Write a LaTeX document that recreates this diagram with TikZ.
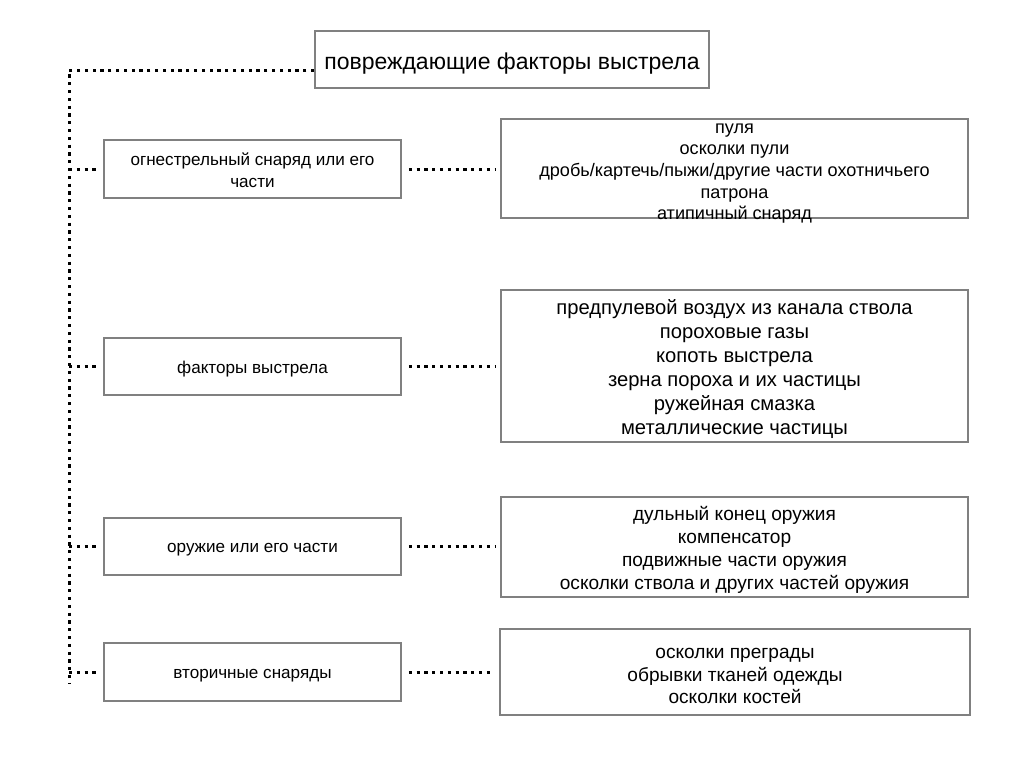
\documentclass[tikz,border=0pt]{standalone}
\usepackage{fontspec}
\setmainfont{Liberation Sans}
\begin{document}
\begin{tikzpicture}[x=1pt,y=-1pt,
  box/.style={draw=black!50, line width=1.6pt, inner sep=0pt},
  txt/.style={align=center, inner sep=0pt},
  dotline/.style={line width=3pt, dash pattern=on 3.2pt off 4.6pt},
  lt/.style={txt, font=\fontsize{17.1}{22}\selectfont}]
\useasboundingbox[fill=white] (0,0) rectangle (1024,768);
% title
\node[box, minimum width=394pt, minimum height=57pt] (t) at (512,59.5) {};
\node[txt, font=\fontsize{23}{27}\selectfont] (tt) at ([yshift=-4pt]t.center) {повреждающие факторы выстрела};
% left boxes
\node[box, minimum width=297pt, minimum height=58pt] (l1) at (252.5,169) {};
\node[box, minimum width=297pt, minimum height=57pt] (l2) at (252.5,366.5) {};
\node[box, minimum width=297pt, minimum height=57pt] (l3) at (252.5,546.5) {};
\node[box, minimum width=297pt, minimum height=58pt] (l4) at (252.5,672) {};
\node[lt] (l1t) at ([yshift=-1pt]l1.center) {огнестрельный снаряд или его\\части};
\node[lt] (l2t) at ([yshift=-3pt]l2.center) {факторы выстрела};
\node[lt] (l3t) at ([yshift=-3pt]l3.center) {оружие или его части};
\node[lt] (l4t) at ([yshift=-4pt]l4.center) {вторичные снаряды};
% right boxes
\node[box, minimum width=467pt, minimum height=99pt] (r1) at (734.5,168.5) {};
\node[box, minimum width=467pt, minimum height=152pt] (r2) at (734.5,366) {};
\node[box, minimum width=467pt, minimum height=100pt] (r3) at (734.5,547) {};
\node[box, minimum width=470pt, minimum height=86pt] (r4) at (735,672) {};
\node[txt, font=\fontsize{18.1}{21.7}\selectfont] (r1t) at ([yshift=-5pt]r1.center) {пуля\\осколки пули\\дробь/картечь/пыжи/другие части охотничьего\\патрона\\атипичный снаряд};
\node[txt, font=\fontsize{20.2}{24}\selectfont] (r2t) at ([yshift=-3pt]r2.center) {предпулевой воздух из канала ствола\\пороховые газы\\копоть выстрела\\зерна пороха и их частицы\\ружейная смазка\\металлические частицы};
\node[txt, font=\fontsize{19.1}{23}\selectfont] (r3t) at ([yshift=-3pt]r3.center) {дульный конец оружия\\компенсатор\\подвижные части оружия\\осколки ствола и других частей оружия};
\node[txt, font=\fontsize{19.1}{22.5}\selectfont] (r4t) at ([yshift=-4pt]r4.center) {осколки преграды\\обрывки тканей одежды\\осколки костей};
% connectors
\coordinate (c0) at (69,70);
\coordinate (c9) at (69,684);
\draw[dotline] (t.west |- c0) -- (c0) -- (c9);
\foreach \i in {1,2,3,4}{
  \draw[dotline] (c0 |- l\i.west) -- ([xshift=-5pt]l\i.west);
  \draw[dotline] ([xshift=7pt]l\i.east) -- ([xshift=-5pt]l\i.east -| r\i.west);
}
\end{tikzpicture}
\end{document}
